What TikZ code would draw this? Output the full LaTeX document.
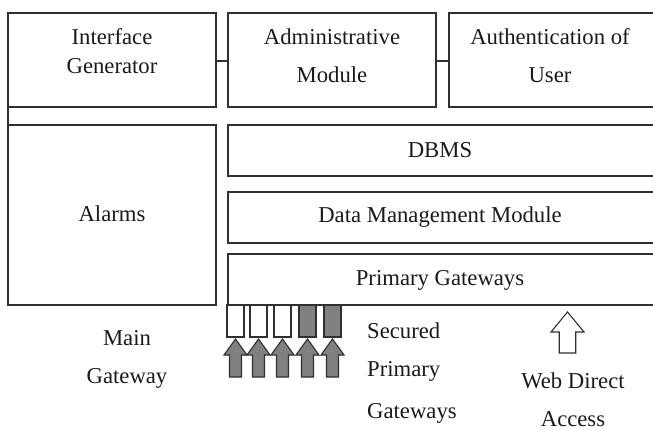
\documentclass[tikz,border=0pt]{standalone}
\usepackage{fontspec}
\setmainfont{Liberation Serif}
\usetikzlibrary{calc}
\definecolor{edge}{HTML}{303030}
\definecolor{ink}{HTML}{1A1A1A}
\definecolor{portgray}{HTML}{808080}
\begin{document}
\begin{tikzpicture}[x=1pt,y=-1pt,
  box/.style={draw=edge,line width=1.4pt,anchor=north west,inner sep=0pt,outer sep=0pt},
  port/.style={box,minimum width=17pt,minimum height=32pt},
  lbl/.style={anchor=base,text=ink,inner sep=0pt,font=\fontsize{22.7}{27}\selectfont},
  lbll/.style={lbl,anchor=base west},
  link/.style={draw=edge,line width=1.4pt},
  uparrow/.style={draw=edge,line width=1.1pt,line join=miter},
]
\useasboundingbox (0,0) rectangle (653,430);
\clip (0,0) rectangle (653,430);

% top row of modules
\node[box,minimum width=208pt,minimum height=94pt] (ig) at (8,13) {};
\node[box,minimum width=208pt,minimum height=94pt] (am) at (228,13) {};
\node[box,minimum width=210pt,minimum height=94pt] (au) at (449,13) {};

% alarms and stacked layers
\node[box,minimum width=208pt,minimum height=180pt] (al) at (8,125) {};
\node[box,minimum width=430pt,minimum height=51pt] (db) at (228,125) {};
\node[box,minimum width=430pt,minimum height=51pt] (dm) at (228,192) {};
\node[box,minimum width=430pt,minimum height=51pt] (pg) at (228,254) {};

% links between modules
\draw[link] (ig.east |- 0,61) -- (am.west |- 0,61);
\draw[link] (am.east |- 0,61) -- (au.west |- 0,61);
\draw[link] (ig.south west) -- (al.north west);

% gateway ports
\node[port,fill=white]    (g1) at (227,305) {};
\node[port,fill=white]    (g2) at (250,305) {};
\node[port,fill=white]    (g3) at (274,305) {};
\node[port,fill=portgray] (g4) at (299,305) {};
\node[port,fill=portgray] (g5) at (324,305) {};

% block arrows into the ports
\foreach \g in {g1,g2,g3,g4,g5}{
  \coordinate (tip) at ($(\g.south)+(0,2)$);
  \draw[uparrow,fill=portgray] (tip) -- ++(11.5,16) -- ++(-5.5,0) -- ++(0,22)
    -- ++(-12,0) -- ++(0,-22) -- ++(-5.5,0) -- cycle;
}

% web access arrow
\coordinate (webtip) at ($(pg.south west)+(339.5,7)$);
\draw[uparrow,fill=white] (webtip) -- ++(16.5,20) -- ++(-8.25,0) -- ++(0,21)
  -- ++(-16.5,0) -- ++(0,-21) -- ++(-8.25,0) -- cycle;

% labels
\node[lbl] (t1) at (112,45) {Interface};
\node[lbl] (t2) at (112,74) {Generator};
\node[lbl] (t3) at (332,45) {Administrative};
\node[lbl] (t4) at (332,83) {Module};
\node[lbl] (t5) at (550,45) {Authentication of};
\node[lbl] (t6) at (550,83) {User};
\node[lbl] (t7) at (112,222) {Alarms};
\node[lbl] (t8) at (440,158) {DBMS};
\node[lbl] (t9) at (440,223) {Data Management Module};
\node[lbl] (t10) at (440,286) {Primary Gateways};
\node[lbl] (t11) at (127,345) {Main};
\node[lbl] (t12) at (127,383) {Gateway};
\node[lbll] (t13) at (367,338) {Secured};
\node[lbll] (t14) at (367,376) {Primary};
\node[lbll] (t15) at (367,418) {Gateways};
\node[lbl] (t16) at (573,388) {Web Direct};
\node[lbl] (t17) at (573,426) {Access};
\end{tikzpicture}
\end{document}
